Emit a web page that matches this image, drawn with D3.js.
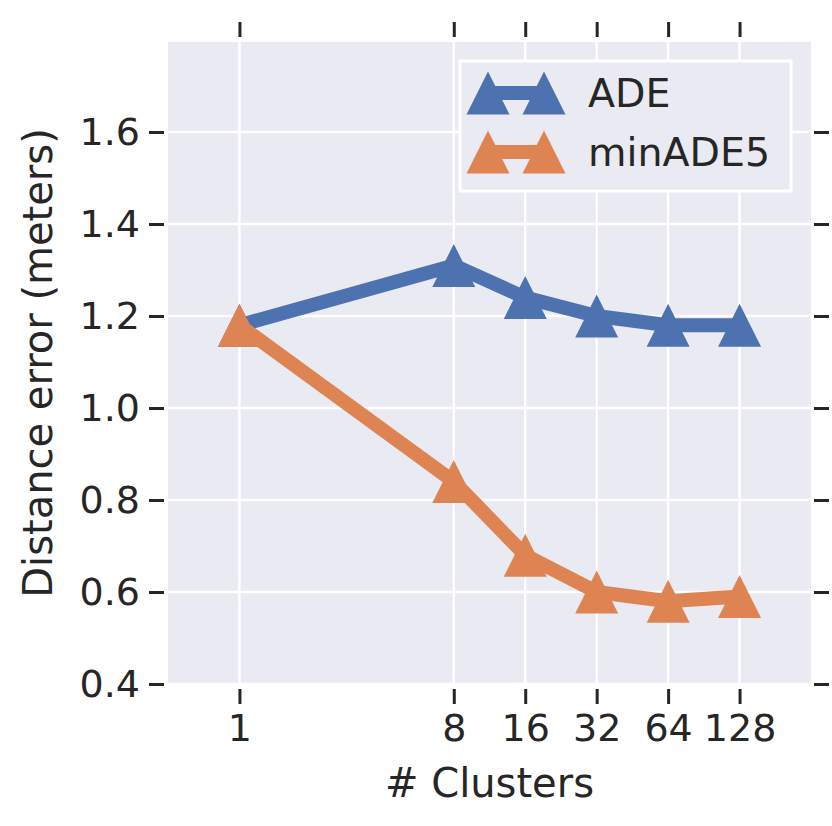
<!DOCTYPE html>
<html>
<head>
<meta charset="utf-8">
<script src="https://cdn.jsdelivr.net/npm/d3@7"></script>
<style>
  body { margin: 0; background: #fff; }
  text { font-family: "DejaVu Sans", sans-serif; fill: #262626; }
</style>
</head>
<body>
<svg id="chart" width="832" height="826"></svg>
<script>
// values
const clusters = [1, 8, 16, 32, 64, 128];
const ade = [1.18, 1.31, 1.24, 1.20, 1.18, 1.18];
const minAde5 = [1.18, 0.84, 0.68, 0.60, 0.58, 0.59];
const yTicks = [0.4, 0.6, 0.8, 1.0, 1.2, 1.4, 1.6];
const seriesNames = ['ADE', 'minADE5'];
const seriesColors = ['#4c72b0', '#dd8452'];

const svg = d3.select('#chart');

const plotL = 168, plotR = 811, plotT = 42, plotB = 684;

const x = d3.scaleLog().base(2)
	.domain([0.5, 256])
	.range([plotL, plotR]);

const y = d3.scaleLinear()
	.domain([0.4, 1.7957])
	.range([plotB, plotT]);

// background + grid
svg.append('rect')
	.attr('x', plotL).attr('y', plotT)
	.attr('width', plotR - plotL).attr('height', plotB - plotT)
	.style('fill', '#eaeaf2');

const grid = svg.append('g').attr('class', 'grid');
grid.selectAll('.gx')
	.data(clusters)
	.enter().append('line')
	.attr('x1', (d) => x(d)).attr('x2', (d) => x(d))
	.attr('y1', plotT).attr('y2', plotB)
	.style('stroke', '#fff').style('stroke-width', 2.5);
grid.selectAll('.gy')
	.data(yTicks)
	.enter().append('line')
	.attr('x1', plotL).attr('x2', plotR)
	.attr('y1', (d) => y(d)).attr('y2', (d) => y(d))
	.style('stroke', '#fff').style('stroke-width', 2.5);

// axes, ticks sit a little away from the plot on all four sides
function styleAxis(g) {
	g.select('.domain').remove();
	g.selectAll('.tick line').style('stroke', '#262626').style('stroke-width', 3);
	g.selectAll('.tick text')
		.style('font-family', '"DejaVu Sans", sans-serif')
		.style('font-size', '38px')
		.style('fill', '#262626');
}

const xBottom = d3.axisBottom(x).tickValues(clusters).tickFormat(d3.format('d'))
	.tickSizeInner(15).tickSizeOuter(0).tickPadding(10);
svg.append('g')
	.attr('transform', 'translate(0,' + (plotB + 5) + ')')
	.call(xBottom)
	.call(styleAxis);

const xTop = d3.axisTop(x).tickValues(clusters).tickFormat('')
	.tickSizeInner(15).tickSizeOuter(0);
svg.append('g')
	.attr('transform', 'translate(0,' + (plotT - 5) + ')')
	.call(xTop)
	.call(styleAxis);

const yLeft = d3.axisLeft(y).tickValues(yTicks).tickFormat(d3.format('.1f'))
	.tickSizeInner(15).tickSizeOuter(0).tickPadding(9);
svg.append('g')
	.attr('transform', 'translate(' + (plotL - 4) + ',0)')
	.call(yLeft)
	.call(styleAxis);

const yRight = d3.axisRight(y).tickValues(yTicks).tickFormat('')
	.tickSizeInner(15).tickSizeOuter(0);
svg.append('g')
	.attr('transform', 'translate(' + (plotR + 3) + ',0)')
	.call(yRight)
	.call(styleAxis);

// axis labels
svg.append('text')
	.attr('x', (plotL + plotR) / 2).attr('y', 797)
	.attr('text-anchor', 'middle')
	.style('font-size', '40px')
	.text('# Clusters');

svg.append('text')
	.attr('transform', 'translate(52,' + (plotT + plotB) / 2 + ') rotate(-90)')
	.attr('text-anchor', 'middle')
	.style('font-size', '40px')
	.text('Distance error (meters)');

// series
const tri = 'M0,-21.5L21.5,21.5L-21.5,21.5Z';
const series = [ade, minAde5].map((vals, i) => ({
	name: seriesNames[i],
	color: seriesColors[i],
	points: vals.map((v, j) => ({k: clusters[j], v: v}))
}));

const line = d3.line()
	.x((d) => x(d.k))
	.y((d) => y(d.v));

const plots = svg.selectAll('.series')
	.data(series)
	.enter().append('g')
	.attr('class', 'series');

plots.append('path')
	.attr('d', (d) => line(d.points))
	.style('fill', 'none')
	.style('stroke', (d) => d.color)
	.style('stroke-width', 14)
	.style('stroke-linejoin', 'round');

plots.selectAll('.marker')
	.data((d) => d.points.map((p) => ({p: p, color: d.color})))
	.enter().append('path')
	.attr('class', 'marker')
	.attr('d', tri)
	.attr('transform', (d) => 'translate(' + x(d.p.k) + ',' + y(d.p.v) + ')')
	.style('fill', (d) => d.color);

// legend
const legend = svg.append('g').attr('transform', 'translate(460,61)');
legend.append('rect')
	.attr('width', 331).attr('height', 130)
	.style('fill', '#eaeaf2')
	.style('stroke', '#fff')
	.style('stroke-width', 3);

const items = legend.selectAll('.item')
	.data(series)
	.enter().append('g')
	.attr('class', 'item')
	.attr('transform', (d, i) => 'translate(0,' + (32 + i * 59) + ')');

items.append('line')
	.attr('x1', 28).attr('x2', 84)
	.style('stroke', (d) => d.color)
	.style('stroke-width', 14);
items.selectAll('.lm')
	.data((d) => [28, 84].map((px) => ({px: px, color: d.color})))
	.enter().append('path')
	.attr('d', tri)
	.attr('transform', (d) => 'translate(' + d.px + ',0)')
	.style('fill', (d) => d.color);
items.append('text')
	.attr('x', 128).attr('y', 14)
	.style('font-size', '39.5px')
	.text((d) => d.name);
</script>
</body>
</html>
